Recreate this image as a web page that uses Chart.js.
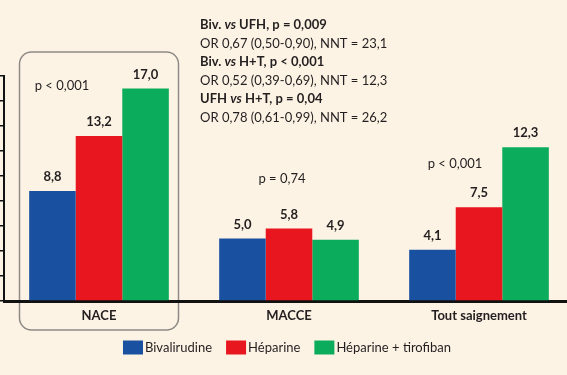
<!DOCTYPE html>
<html>
<head>
<meta charset="utf-8">
<script src="https://cdn.jsdelivr.net/npm/chart.js@4/dist/chart.umd.min.js"></script>
<style>
  html, body { margin: 0; padding: 0; background: #fcf3e4; overflow: hidden; width: 567px; height: 375px; }
  #c { position: absolute; left: 0; top: 0; }
</style>
</head>
<body>
<canvas id="c" width="574" height="375"></canvas>
<script>
// ---- Data ----
const categories = ['NACE', 'MACCE', 'Tout saignement'];
const seriesNames = ['Bivalirudine', 'Héparine', 'Héparine + tirofiban'];
const bivalirudine = [8.8, 5.0, 4.1];
const heparine = [13.2, 5.8, 7.5];
const heparineTirofiban = [17.0, 4.9, 12.3];
const pValues = ['p < 0,001', 'p = 0,74', 'p < 0,001'];
const yTickValues = [0, 2, 4, 6, 8, 10, 12, 14, 16, 18];
const comparisonLines = [
  [['Biv. ', 'bold'], ['vs', 'italic bold'], [' UFH, p = 0,009', 'bold']],
  [['OR 0,67 (0,50-0,90), NNT = 23,1', 'normal']],
  [['Biv. ', 'bold'], ['vs', 'italic bold'], [' H+T, p < 0,001', 'bold']],
  [['OR 0,52 (0,39-0,69), NNT = 12,3', 'normal']],
  [['UFH ', 'bold'], ['vs', 'italic bold'], [' H+T, p = 0,04', 'bold']],
  [['OR 0,78 (0,61-0,99), NNT = 26,2', 'normal']]
];

// ---- Styles ----
const FONT = 'Lato, "Open Sans", sans-serif';
const TEXT = '#231f20';
const BG = '#fcf3e4';
const colors = ['#1a50a0', '#e8161e', '#0bac5c'];

const fmt = v => v.toFixed(1).replace('.', ',');

const bgPlugin = {
  id: 'bg',
  beforeDraw(chart) {
    const ctx = chart.ctx;
    ctx.save();
    ctx.fillStyle = BG;
    ctx.fillRect(0, 0, chart.width, chart.height);
    // rounded frame around first category
    const xs = chart.scales.x;
    const cx = xs.getPixelForValue(0);
    ctx.strokeStyle = '#8e8a86';
    ctx.lineWidth = 1.5;
    ctx.beginPath();
    ctx.roundRect(cx - 79.5, 52, 159, 278, 12);
    ctx.stroke();
    ctx.restore();
  }
};

const textPlugin = {
  id: 'texts',
  afterDraw(chart) {
    const ctx = chart.ctx;
    const xs = chart.scales.x, ys = chart.scales.y;
    ctx.save();
    // value labels
    ctx.fillStyle = TEXT;
    ctx.textAlign = 'center';
    ctx.textBaseline = 'middle';
    ctx.font = 'bold 13px ' + FONT;
    chart.data.datasets.forEach((ds, di) => {
      chart.getDatasetMeta(di).data.forEach((bar, i) => {
        ctx.fillText(fmt(ds.data[i]), bar.x, bar.y - 14);
      });
    });
    // p-values
    ctx.font = '13px ' + FONT;
    const pPos = [[-37, 17.25], [-7, 9.75], [-24, 10.95]];
    pValues.forEach((p, i) => {
      ctx.fillText(p, xs.getPixelForValue(i) + pPos[i][0], ys.getPixelForValue(pPos[i][1]));
    });
    // comparison block
    ctx.textAlign = 'left';
    const lineYs = [25, 43.5, 62, 80.5, 99, 117.5];
    comparisonLines.forEach((segs, li) => {
      let x = 200;
      segs.forEach(([t, w]) => {
        ctx.font = w + ' 13px ' + FONT;
        ctx.fillText(t, x, lineYs[li]);
        x += ctx.measureText(t).width;
      });
    });
    // legend
    ctx.font = '13px ' + FONT;
    const boxW = 20, boxH = 14, gap = 2, spacing = 14;
    const widths = seriesNames.map(n => boxW + gap + ctx.measureText(n).width);
    const total = widths.reduce((a, b) => a + b, 0) + spacing * (seriesNames.length - 1);
    let lx = 287 - total / 2;
    seriesNames.forEach((n, i) => {
      ctx.fillStyle = colors[i];
      ctx.fillRect(lx, 340.5, boxW, boxH);
      ctx.fillStyle = TEXT;
      ctx.fillText(n, lx + boxW + gap, 348);
      lx += widths[i] + spacing;
    });
    ctx.restore();
  }
};

new Chart(document.getElementById('c'), {
  type: 'bar',
  data: {
    labels: categories,
    datasets: [
      { label: seriesNames[0], data: bivalirudine, backgroundColor: colors[0] },
      { label: seriesNames[1], data: heparine, backgroundColor: colors[1] },
      { label: seriesNames[2], data: heparineTirofiban, backgroundColor: colors[2] }
    ]
  },
  options: {
    responsive: false,
    animation: false,
    layout: { padding: { top: 76, left: 0, right: 0, bottom: 0 } },
    datasets: { bar: { categoryPercentage: 0.735, barPercentage: 1.0, borderWidth: 0 } },
    plugins: { legend: { display: false }, tooltip: { enabled: false } },
    scales: {
      x: {
        z: 1,
        grid: { display: false, drawTicks: false },
        border: { display: true, color: '#111', width: 3 },
        ticks: { padding: 7, color: TEXT, font: { family: FONT, size: 13, weight: 'bold' } },
        afterFit(s) { s.height = 74; }
      },
      y: {
        min: 0, max: 18,
        afterBuildTicks(s) { s.ticks = yTickValues.map(v => ({ value: v })); },
        ticks: { display: false },
        grid: { drawOnChartArea: false, drawTicks: true, tickLength: 4, color: '#111', lineWidth: 1.5 },
        border: { display: true, color: '#111', width: 2 },
        afterFit(s) { s.width = 4; }
      }
    }
  },
  plugins: [bgPlugin, textPlugin]
});
</script>
</body>
</html>
